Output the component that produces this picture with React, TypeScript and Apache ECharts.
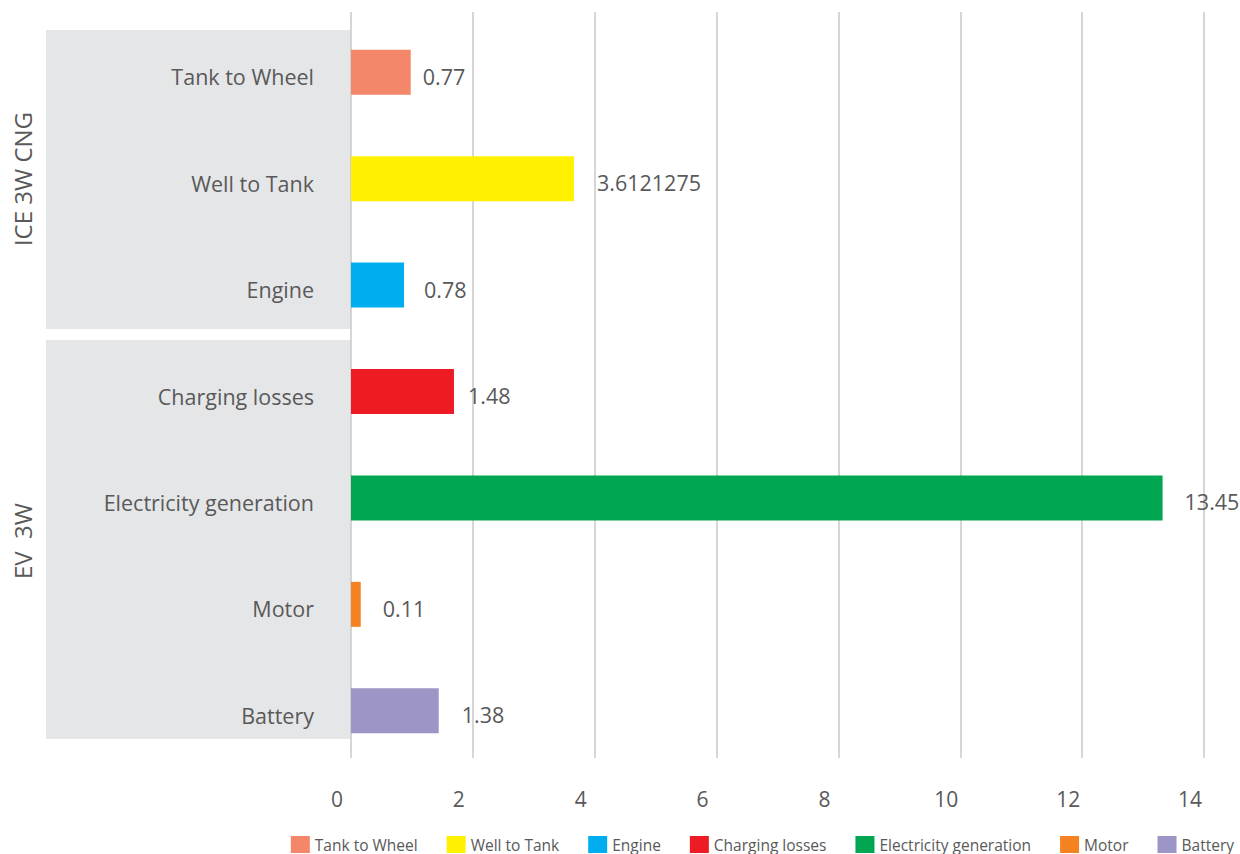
import React, { useEffect, useRef } from "react";
import * as echarts from "echarts";

const categories = [
  "Tank to Wheel",
  "Well to Tank",
  "Engine",
  "Charging losses",
  "Electricity generation",
  "Motor",
  "Battery",
];
const colors = ["#F4866A", "#FFF100", "#00AEEF", "#ED1C24", "#00A651", "#F58220", "#9E95C7"];
// bar lengths as drawn in the picture
const barValues = [0.98, 3.66, 0.87, 1.69, 13.32, 0.16, 1.44];
// data label texts as printed
const labelTexts = ["0.77", "3.6121275", "0.78", "1.48", "13.45", "0.11", "1.38"];
const groups = ["ICE 3W CNG", "EV  3W"];
const xTicks = [0, 2, 4, 6, 8, 10, 12, 14];

const FONT = "Open Sans";
const TXT = "#595959";
const labelGaps = [12, 23, 20, 14, 22, 22, 23];

export default function App() {
  const ref = useRef<HTMLDivElement>(null);
  useEffect(() => {
    document.body.style.margin = "0";
    const chart = echarts.init(ref.current!, undefined, { renderer: "svg" });
    const series = categories.map((name, i) => ({
      name,
      type: "bar",
      stack: "all",
      barWidth: 45,
      xAxisIndex: 0,
      yAxisIndex: 0,
      itemStyle: { color: colors[i] },
      data: categories.map((_, j) => (j === i ? barValues[i] : "-")),
      label: {
        show: true,
        position: "right",
        distance: labelGaps[i],
        offset: [0, 4],
        fontFamily: FONT,
        fontSize: 21.5,
        color: TXT,
        formatter: () => labelTexts[i],
      },
    }));
    const xMin = xTicks[0];
    const xMax = xTicks[xTicks.length - 1];
    chart.setOption({
      animation: false,
      textStyle: { fontFamily: FONT },
      grid: [
        { left: 351, right: 36, top: 19, height: 745, containLabel: false, z: 3 },
        { left: 351, right: 36, top: 12, height: 746, containLabel: false, z: 1 },
      ],
      xAxis: [
        {
          gridIndex: 0,
          type: "value",
          min: xMin,
          max: xMax,
          interval: 2,
          axisLine: { show: false },
          axisTick: { show: false },
          splitLine: { show: false },
          axisLabel: { show: false },
        },
        {
          gridIndex: 1,
          type: "value",
          min: xMin,
          max: xMax,
          interval: 2,
          axisLine: { show: false },
          axisTick: { show: false },
          splitLine: { show: true, lineStyle: { color: "#C9C9C9", width: 1.5 } },
          axisLabel: {
            fontFamily: FONT,
            fontSize: 21,
            color: TXT,
            margin: 30,
            padding: [0, 28, 0, 0],
          },
        },
      ],
      yAxis: [
        {
          gridIndex: 0,
          type: "category",
          inverse: true,
          data: categories,
          axisLine: { show: false },
          axisTick: { show: false },
          axisLabel: {
            color: TXT,
            margin: 37,
            formatter: (v: string) => `{a|${v}}`,
            rich: {
              a: {
                fontFamily: FONT,
                fontSize: 21.5,
                color: TXT,
                padding: [9, 0, 0, 0],
              },
            },
          },
        },
        {
          gridIndex: 1,
          type: "value",
          min: 0,
          max: 1,
          show: false,
          splitLine: { show: false },
        },
      ],
      legend: {
        data: categories,
        right: 6,
        top: 836,
        padding: 0,
        itemWidth: 19,
        itemHeight: 17,
        itemGap: 29,
        icon: "rect",
        textStyle: { fontFamily: FONT, fontSize: 15.5, color: TXT },
      },
      graphic: [
        {
          type: "rect",
          z: -10,
          shape: { x: 46, y: 30, width: 305, height: 299 },
          style: { fill: "#E5E6E8" },
        },
        {
          type: "rect",
          z: -10,
          shape: { x: 46, y: 340, width: 305, height: 399 },
          style: { fill: "#E5E6E8" },
        },
        {
          type: "text",
          x: 22,
          y: 179,
          rotation: Math.PI / 2,
          style: {
            text: groups[0],
            fontFamily: FONT,
            fontSize: 24,
            fill: TXT,
            textAlign: "center",
            textVerticalAlign: "middle",
          },
        },
        {
          type: "text",
          x: 22,
          y: 541,
          rotation: Math.PI / 2,
          style: {
            text: groups[1],
            fontFamily: FONT,
            fontSize: 24,
            fill: TXT,
            textAlign: "center",
            textVerticalAlign: "middle",
          },
        },
      ],
      series,
    });
    return () => chart.dispose();
  }, []);
  return <div ref={ref} style={{ width: 1240, height: 854 }} />;
}
